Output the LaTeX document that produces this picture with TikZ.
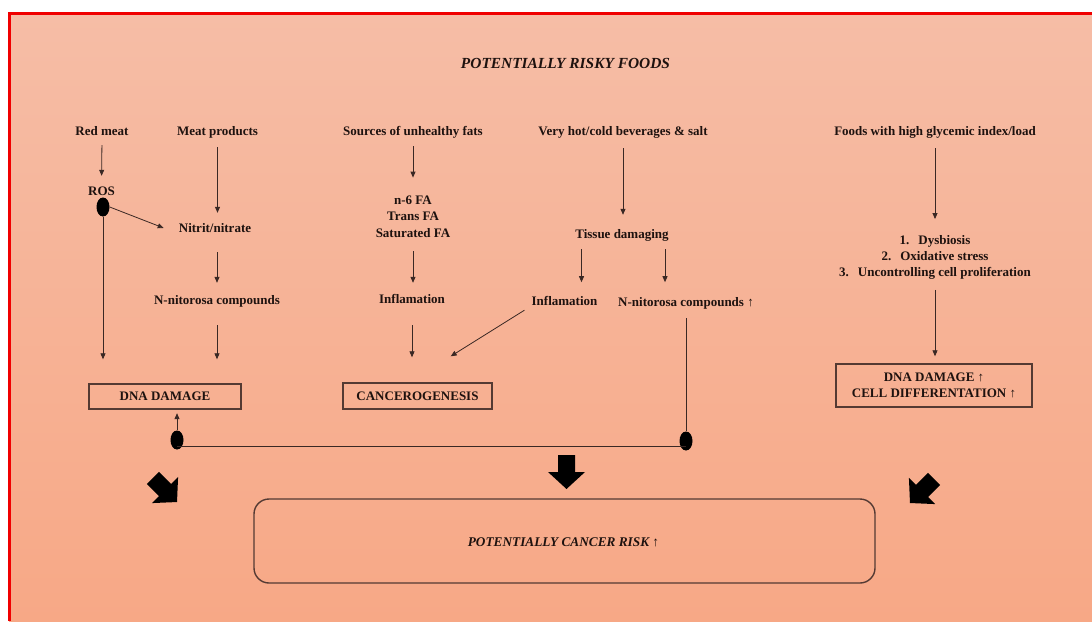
\documentclass[tikz,border=0pt]{standalone}
\usepackage{fontspec}
\setmainfont{Liberation Serif}
\usetikzlibrary{calc,arrows.meta,shapes.geometric}
\definecolor{bgtop}{HTML}{F6BDA6}
\definecolor{bgbot}{HTML}{F7A886}
\definecolor{ink}{HTML}{1E120F}
\definecolor{ln}{HTML}{3A2824}
\definecolor{bx}{HTML}{543A33}
\definecolor{frame}{HTML}{F00000}
\newcommand\blockarrow[3]{%
  \fill[black, shift={(#1,#2)}, rotate=#3]
    (-17,-8.5) -- (0,-8.5) -- (0,-18.5) -- (17,0) -- (0,18.5) -- (0,8.5) -- (-17,8.5) -- cycle;}
\begin{document}
\begin{tikzpicture}[x=1pt,y=-1pt,
  lbl/.style={font=\fontsize{13}{15}\selectfont\bfseries, text=ink, inner sep=0pt, text height=9pt, text depth=3pt},
  mlbl/.style={font=\fontsize{13}{16.3}\selectfont\bfseries, text=ink, inner sep=0pt, align=center},
  ttl/.style={font=\fontsize{15.4}{18}\selectfont\bfseries\itshape, text=ink, inner sep=0pt},
  boxed/.style={draw=bx, line width=1.4pt, inner sep=0pt, font=\fontsize{13}{16}\selectfont\bfseries, text=ink, align=center},
  arr/.style={draw=ln, line width=0.8pt, -{Triangle[length=6pt,width=5pt]}},
  con/.style={draw=ln, line width=0.8pt},
  dot/.style={ellipse, fill=black, inner sep=0pt, minimum width=13pt, minimum height=19pt}
]
\useasboundingbox (0,0) rectangle (1092,621);
\fill[white] (0,0) rectangle (1092,621);
\shade[top color=bgtop, bottom color=bgbot] (9,13) rectangle (1092,621);
\draw[frame, line width=3.2pt] (9.6,621) -- (9.6,13.6) -- (1092,13.6);

% title
\node[ttl] (title) at (565.5,63) {POTENTIALLY RISKY FOODS};

% column 1-2
\node[lbl] (redmeat) at (102,132) {Red meat};
\node[lbl] (meatprod) at (217.5,132) {Meat products};
\node[lbl] (ros) at (101.5,192) {ROS};
\node[dot] (d1) at (103,207) {};
\node[lbl] (nitrit) at (215,229) {Nitrit/nitrate};
\node[lbl] (nnit) at (217,301) {N-nitorosa compounds};
\node[boxed, minimum width=152pt, minimum height=25pt] (dna) at (165,396.5) {DNA DAMAGE};

% column 3
\node[lbl] (fats) at (413,132) {Sources of unhealthy fats};
\node[mlbl] (fa) at (413,216.5) {n-6 FA\\Trans FA\\Saturated FA};
\node[lbl] (infl) at (412,300) {Inflamation};
\node[boxed, minimum width=149pt, minimum height=26pt] (canc) at (417.5,396) {CANCEROGENESIS};

% column 4
\node[lbl] (bev) at (623,132) {Very hot/cold beverages \& salt};
\node[lbl] (tissue) at (622,235) {Tissue damaging};
\node[lbl] (infl2) at (564.5,302) {Inflamation};
\node[lbl] (nnit2) at (686,303) {N-nitorosa compounds ↑};
\node[dot] (d2) at (177,440) {};
\node[dot] (d3) at (686,441) {};

% column 5
\node[lbl] (gly) at (935,132) {Foods with high glycemic index/load};
\node[mlbl] (list) at (935,257.5) {1.\hspace{9pt}Dysbiosis\\2.\hspace{9pt}Oxidative stress\\3.\hspace{9pt}Uncontrolling cell proliferation};
\node[boxed, minimum width=196pt, minimum height=43pt] (dna2) at (934,385.5) {DNA DAMAGE ↑\\CELL DIFFERENTATION ↑};

% bottom
\node[draw=bx, line width=1.4pt, rounded corners=15pt, minimum width=621pt, minimum height=84pt, inner sep=0pt] (risk) at (564.5,541) {};
\node[ttl, font=\fontsize{13.3}{16}\selectfont\bfseries\itshape] (risktxt) at (563.5,542) {POTENTIALLY CANCER RISK ↑};

% connectors
\draw[arr, shorten <=7, shorten >=10] (redmeat.south) -- (ros.north);
\draw[arr, shorten <=9, shorten >=10] (meatprod.south) -- (meatprod.south |- nitrit.north);
\draw[arr] (d1.east) -- ($(nitrit.west)+(-15,-1)$);
\draw[arr, shorten <=17, shorten >=12] (nitrit.south -| nnit) -- (nnit.north);
\draw[arr, shorten <=18, shorten >=24] (nnit.south) -- (nnit.south |- dna.north);
\draw[arr, shorten >=24] (d1.south) -- (d1.south |- dna.north);

\draw[arr, shorten <=8, shorten >=18] (fats.south) -- (fa.north);
\draw[arr, shorten <=14, shorten >=11] (fa.south) -- (fa.south |- infl.north);
\draw[arr, shorten <=19, shorten >=25] (infl.south) -- (infl.south |- canc.north);
\draw[arr] ($(infl2.south west)+(-7,2)$) -- ($(canc.north east)+(-42,-26)$);

\draw[arr, shorten <=10, shorten >=14] (bev.south) -- (bev.south |- tissue.north);
\draw[arr] ($(tissue.south)+(-40.5,8)$) -- ($(tissue.south)+(-40.5,41)$);
\draw[arr] ($(tissue.south)+(43,8)$) -- ($(tissue.south)+(43,41)$);
\draw[con, shorten <=9] (nnit2.south) -- (d3.north);
\draw[con] ($(d2.center)+(0,6)$) -- ($(d3.center)+(0,5)$);
\draw[arr, shorten >=3.5] (d2.north) -- (d2.north |- dna.south);

\draw[arr, shorten <=10, shorten >=16] (gly.south) -- (list.north);
\draw[arr, shorten <=10, shorten >=7] (list.south) -- (list.south |- dna2.north);

% block arrows
\blockarrow{566.5}{472}{-90}
\blockarrow{165}{490}{-45}
\blockarrow{922}{491}{-135}
\end{tikzpicture}
\end{document}
